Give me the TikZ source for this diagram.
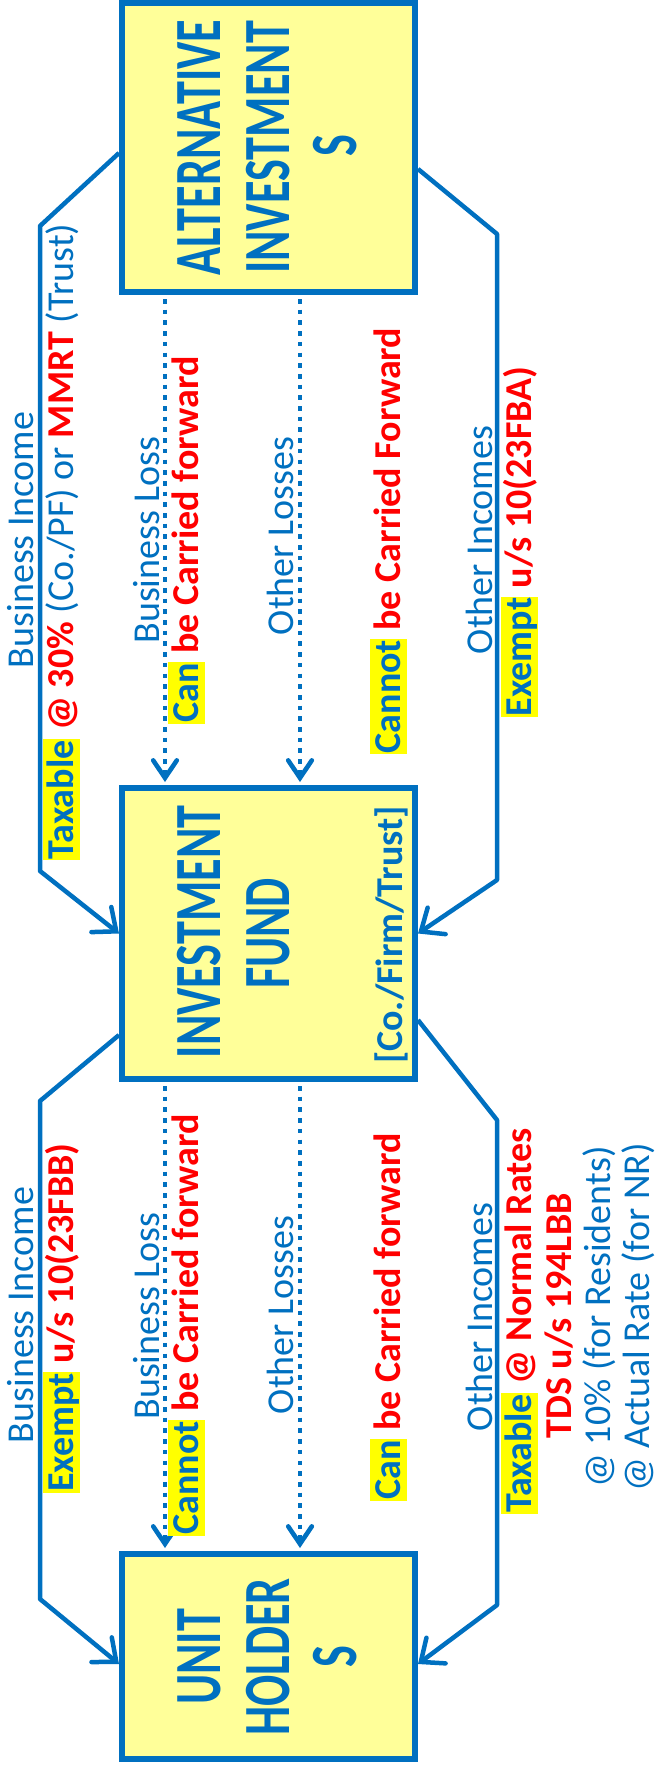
\documentclass[tikz,border=0pt]{standalone}
\usepackage{fontspec}
\setmainfont{Carlito}
\usetikzlibrary{arrows.meta}
\definecolor{cblue}{HTML}{0070C0}
\definecolor{cred}{HTML}{FF0000}
\definecolor{hlyel}{HTML}{FFFF00}
\definecolor{boxfill}{HTML}{FFFF99}
\newcommand{\hlb}[1]{{\setlength{\fboxsep}{0pt}\colorbox{hlyel}{\kern1pt\vrule width0pt height0.8em depth0.18em\textbf{#1}\kern1pt}}}
\newcommand{\rb}[1]{\textcolor{cred}{\textbf{#1}}}
\begin{document}
\begin{tikzpicture}[x=1pt,y=-1pt,
 conn/.style={draw=cblue, line width=4.5pt, line join=round, -{Straight Barb[length=19pt,width=32pt,line cap=round]}},
 dotc/.style={draw=cblue, line width=4.6pt, dash pattern=on 4.6pt off 6.1pt, -{Straight Barb[length=17.5pt,width=23.6pt,line cap=round]}},
 box/.style={draw=cblue, fill=boxfill, line width=6pt, inner sep=0pt},
 lbl/.style={rotate=90, anchor=base, inner sep=0pt, text=cblue, font=\fontsize{38}{40}\selectfont},
 ttl/.style={rotate=90, anchor=center, inner sep=0pt, text=cblue, font=\fontsize{66}{68}\selectfont\bfseries},
]
\useasboundingbox (0,0) rectangle (656,1774);
% boxes
\node[box, minimum width=293pt, minimum height=289pt] (ais) at (268.5,147.5) {};
\node[box, minimum width=293pt, minimum height=291pt] (if) at (268.5,933.5) {};
\node[box, minimum width=293pt, minimum height=205pt] (uh) at (268.5,1656.5) {};
% box titles
\node[ttl] (t1a) at (199,147.5) {\scalebox{0.70}[1]{ALTERNATIVE}};
\node[ttl] (t1b) at (268,147.5) {\scalebox{0.70}[1]{INVESTMENT}};
\node[ttl] (t1c) at (335,146) {\scalebox{0.70}[1]{S}};
\node[ttl] (t2a) at (199,932) {\scalebox{0.70}[1]{INVESTMENT}};
\node[ttl] (t2b) at (268,933.5) {\scalebox{0.70}[1]{FUND}};
\node[lbl, font=\fontsize{38}{40}\selectfont\bfseries] (t2c) at (402,935) {[Co./Firm/Trust]};
\node[ttl] (t3a) at (199,1657) {\scalebox{0.70}[1]{UNIT}};
\node[ttl] (t3b) at (268,1657) {\scalebox{0.70}[1]{HOLDER}};
\node[ttl] (t3c) at (335,1657) {\scalebox{0.70}[1]{S}};
% coordinates for bends
\coordinate (a1) at (40,226);  \coordinate (a2) at (40,871);
\coordinate (b1) at (497,234); \coordinate (b2) at (497,880);
\coordinate (c1) at (40,1101); \coordinate (c2) at (40,1599);
\coordinate (d1) at (497,1120);\coordinate (d2) at (497,1605);
% solid connectors
\draw[conn] ([yshift=-5.5pt]ais.west) -- (a1) -- (a2) -- (if.west);
\draw[conn] ([yshift=-21.5pt]ais.east) -- (b1) -- (b2) -- (if.east);
\draw[conn] ([yshift=47pt]if.south west) -- (c1) -- (c2) -- ([yshift=-7.5pt]uh.west);
\draw[conn] ([yshift=62pt]if.south east) -- (d1) -- (d2) -- ([yshift=-7.5pt]uh.east);
% dotted connectors
\draw[dotc] ([xshift=-103.5pt,yshift=-4pt]ais.south) -- ([xshift=-103.5pt,yshift=3pt]if.north);
\draw[dotc] ([xshift=31.5pt,yshift=-4pt]ais.south) -- ([xshift=31.5pt,yshift=3pt]if.north);
\draw[dotc] ([xshift=-103.5pt,yshift=-4pt]if.south) -- ([xshift=-103.5pt,yshift=3pt]uh.north);
\draw[dotc] ([xshift=31.5pt,yshift=-4pt]if.south) -- ([xshift=31.5pt,yshift=3pt]uh.north);
% section 1 labels
\node[lbl] (l1) at (33,540) {Business Income};
\node[lbl] (l2) at (73,542) {\hlb{Taxable} \rb{@ 30\%} (Co./PF) or \rb{MMRT} (Trust)};
\node[lbl] (l3) at (159,540) {Business Loss};
\node[lbl] (l4) at (198,540) {\hlb{Can} \rb{be Carried forward}};
\node[lbl] (l5) at (293,536) {Other Losses};
\node[lbl] (l6) at (400,541) {\hlb{Cannot} \rb{be Carried Forward}};
\node[lbl] (l7) at (492,540) {Other Incomes};
\node[lbl] (l8) at (531,542) {\hlb{Exempt} \rb{u/s 10(23FBA)}};
% section 2 labels
\node[lbl] (m1) at (33,1315) {Business Income};
\node[lbl] (m2) at (73,1318) {\hlb{Exempt} \rb{u/s 10(23FBB)}};
\node[lbl] (m3) at (159,1316) {Business Loss};
\node[lbl] (m4) at (198,1325) {\hlb{Cannot} \rb{be Carried forward}};
\node[lbl] (m5) at (293,1315) {Other Losses};
\node[lbl] (m6) at (400,1317) {\hlb{Can} \rb{be Carried forward}};
\node[lbl] (m7) at (492,1317) {Other Incomes};
\node[lbl] (m8) at (531,1321) {\hlb{Taxable} \rb{@ Normal Rates}};
\node[lbl] (m9) at (571,1316) {\rb{TDS u/s 194LBB}};
\node[lbl] (m10) at (610,1317) {@ 10\% (for Residents)};
\node[lbl] (m11) at (649,1317) {@ Actual Rate (for NR)};
\end{tikzpicture}
\end{document}
